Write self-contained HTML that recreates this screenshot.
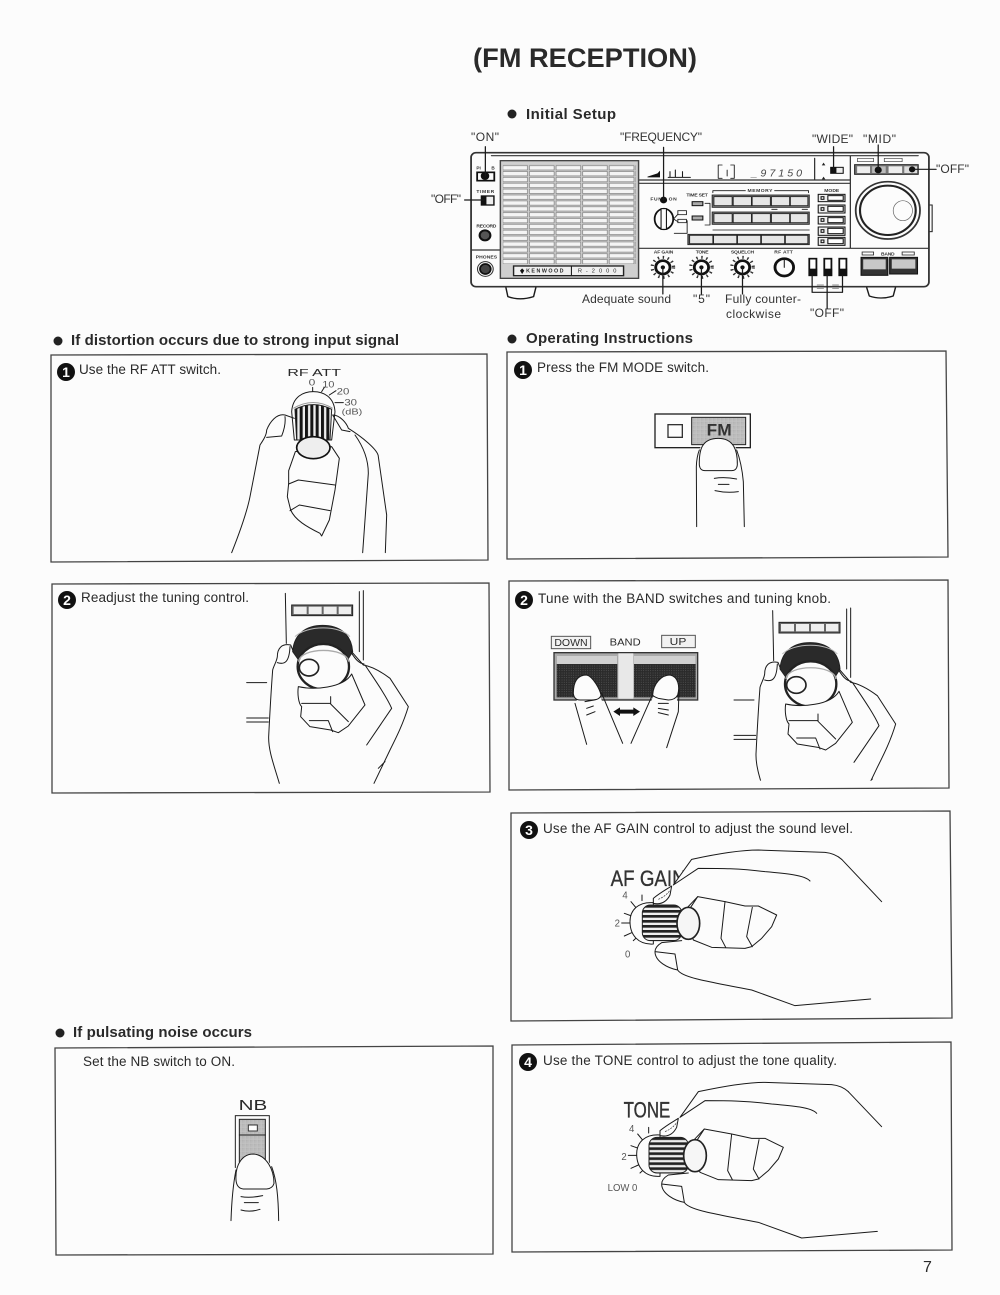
<!DOCTYPE html>
<html><head><meta charset="utf-8"><style>
html,body{margin:0;padding:0;background:#fcfcfc}
svg{display:block;filter:blur(.35px)}
text{font-family:"Liberation Sans",sans-serif;fill:#2a2a2a}
.h{font-weight:700;font-size:15px}
.t{font-size:13.5px}
.l{font-size:12px;fill:#333}
.p{fill:none;stroke:#444;stroke-width:1.3}
.s{fill:none;stroke:#1a1a1a;stroke-width:3;stroke-linejoin:round;stroke-linecap:round}
.w{fill:#fcfcfc;stroke:#1a1a1a;stroke-width:3;stroke-linejoin:round}
.n{font-weight:700;font-size:14px;fill:#fff;text-anchor:middle}
.k{font-weight:700;font-size:14px;fill:#333;text-anchor:middle}
.g{fill:#555}
.d{stroke:#333;stroke-width:1;fill:#333}
</style></head><body>
<svg xmlns="http://www.w3.org/2000/svg" width="1000" height="1295" viewBox="0 0 1000 1295">
<defs>
<clipPath id="cr2"><rect x="0" y="0" width="1350" height="1292"/></clipPath>
<pattern id="slat" patternUnits="userSpaceOnUse" x="229" y="134" width="74.5" height="17.6"><rect x="3" y="3" width="69" height="13" fill="#f4f4f4" stroke="#666" stroke-width="1.6"/></pattern>
<pattern id="pad" patternUnits="userSpaceOnUse" width="7" height="7"><rect width="7" height="7" fill="#2b2b2b"/><rect x="2" y="2" width="2" height="2" fill="#777"/></pattern>
<pattern id="dot" patternUnits="userSpaceOnUse" width="4" height="4"><rect width="4" height="4" fill="#c6c6c6"/><rect width="2" height="2" fill="#a0a0a0"/></pattern>
<pattern id="vr" patternUnits="userSpaceOnUse" x="733" width="16" height="10"><rect width="16" height="10" fill="#eee"/><rect width="9" height="10" fill="#151515"/></pattern>
<pattern id="hr" patternUnits="userSpaceOnUse" y="285" width="10" height="15"><rect width="10" height="15" fill="#eee"/><rect width="10" height="8" fill="#222"/></pattern>
<g id="tune">
<path class="s" d="M706,730L709,880M928,725L928,905M940,722L940,930M590,998H650M590,1104H655M590,1116H655"/>
<rect x="725" y="765" width="183" height="32" fill="#666" stroke="#222" stroke-width="3"/>
<rect x="731" y="770" width="39" height="22" fill="#eee"/><rect x="776" y="770" width="39" height="22" fill="#eee"/><rect x="821" y="770" width="39" height="22" fill="#eee"/><rect x="866" y="770" width="37" height="22" fill="#eee"/>
<path d="M728,905C732,850 770,826 818,826C866,826 904,850 908,905L880,950H760Z" fill="#2a2a2a" stroke="#222" stroke-width="3"/>
<path d="M735,860C770,825 870,825 900,860" fill="none" stroke="#bbb" stroke-width="3"/>
<ellipse cx="820" cy="950" rx="77" ry="68" fill="#fcfcfc" stroke="#222" stroke-width="7"/>
<path d="M746,935C750,890 890,890 896,935" fill="none" stroke="#aaa" stroke-width="4"/>
<path class="w" d="M745,1010C742,1030 745,1060 755,1070L752,1100L780,1130L842,1140L865,1148L895,1128L945,1065L905,972C880,1015 790,1020 745,1010Z"/>
<path class="s" d="M755,1060H840M842,1040V1062L895,1115M778,1112H835L848,1145"/>
<ellipse cx="777" cy="953" rx="29" ry="25" fill="#fcfcfc" stroke="#222" stroke-width="5"/>
<path class="s" d="M688,1300C670,1240 655,1200 656,1160C660,1080 665,1000 668,960C672,945 680,935 682,920C682,895 695,880 722,885L728,900"/>
<path class="s" d="M682,938C705,945 718,935 720,890"/>
<path class="s" d="M905,905L940,945C970,950 1000,970 1020,985L1075,1070C1060,1120 1040,1160 1020,1200L972,1300M945,945C975,990 1010,1040 1025,1075L950,1185M1005,1235L985,1255M905,910C915,925 925,940 942,942"/>
</g>
<g id="af">
<path d="M505,225L560,148C620,135 700,120 760,120L960,127Q990,130 1010,148L1130,275V560H870L520,480L445,300Z" fill="#fcfcfc"/>
<path class="s" d="M505,225L560,148C620,135 700,120 760,120L960,127Q990,130 1010,148M505,225L580,175C650,175 700,175 780,185C840,190 900,195 915,213"/>
<path class="s" d="M411,255V272M378,275L392,292M358,310L380,318M350,339H375M358,378L380,368M385,392L398,380"/>
<path class="w" d="M445,278C400,275 375,300 375,335C375,375 400,405 445,402Z"/>
<rect x="412" y="285" width="118" height="107" fill="url(#hr)" stroke="#222" stroke-width="3" rx="24"/>
<path class="s" d="M445,265C470,245 490,235 500,228L495,255C485,275 470,285 445,280Z"/>
<path d="M460,268C475,262 490,250 495,240" fill="none" stroke="#333" stroke-width="2" stroke-dasharray="6 3"/>
<path class="w" d="M578,260L660,275L720,288L760,288L815,315L800,350L770,385L740,410L720,415L620,412L565,390L540,300Z"/>
<path class="s" d="M660,275L648,385L662,412M742,292L725,380L742,410M578,260L555,295"/>
<ellipse cx="550" cy="340" rx="34" ry="48" fill="#f6f6f6" stroke="#222" stroke-width="5"/>
<path class="s" d="M450,425Q450,410 470,398L530,392M450,425L510,432L518,480C490,475 450,455 450,425ZM518,480C530,500 580,510 740,540L870,587L1097,567"/>
</g>
<g id="rk">
<circle r="30" fill="none" stroke="#333" stroke-width="9" stroke-dasharray="4 10"/>
<circle r="20" fill="#fcfcfc" stroke="#111" stroke-width="8"/>
<circle r="6" fill="#111"/>
</g>
</defs>

<rect width="1000" height="1295" fill="#fcfcfc"/>

<!-- headings -->
<text x="473" y="67" font-size="27" font-weight="700" textLength="224" lengthAdjust="spacingAndGlyphs">(FM RECEPTION)</text>
<circle cx="512" cy="114" r="4.5" fill="#222"/><text class="h" x="526" y="119" textLength="90">Initial Setup</text>
<circle cx="58" cy="341" r="4.5" fill="#222"/><text class="h" x="71" y="345" textLength="328">If distortion occurs due to strong input signal</text>
<circle cx="512" cy="339" r="4.5" fill="#222"/><text class="h" x="526" y="343" textLength="167">Operating Instructions</text>
<circle cx="60" cy="1033" r="4.5" fill="#222"/><text class="h" x="73" y="1037" textLength="179">If pulsating noise occurs</text>

<!-- callouts -->
<text class="l" x="471" y="141" textLength="28">"ON"</text>
<text class="l" x="620" y="141" textLength="82">"FREQUENCY"</text>
<text class="l" x="812" y="143" textLength="41">"WIDE"</text>
<text class="l" x="863" y="143" textLength="33">"MID"</text>
<text class="l" x="936" y="173" textLength="33">"OFF"</text>
<text class="l" x="431" y="203" textLength="30">"OFF"</text>
<text class="l" x="582" y="303" textLength="89">Adequate sound</text>
<text class="l" x="693" y="303" textLength="17">"5"</text>
<text class="l" x="725" y="303" textLength="76">Fully counter-</text>
<text class="l" x="726" y="318" textLength="55">clockwise</text>
<text class="l" x="810" y="317" textLength="34">"OFF"</text>

<!-- receiver -->
<g transform="translate(420,120) scale(.35714,.33333)">
<path class="w" d="M240,500L246,530Q280,543 318,530L325,500M1250,500L1258,528Q1290,540 1325,528L1332,500" style="stroke-width:4"/>
<rect x="1425" y="255" width="9" height="80" fill="#fcfcfc" stroke="#222" stroke-width="3"/>
<rect x="143" y="98" width="1282" height="402" rx="14" fill="#fcfcfc" stroke="#333" stroke-width="5"/>
<path class="s" d="M200,107H1395M612,180H1205M612,190H1205M1205,108V385M1105,115V180M143,390H225M612,385H1425" style="stroke-width:3.5;stroke:#333"/>
<!-- speaker -->
<rect x="225" y="122" width="387" height="353" fill="#cfcfcf" stroke="#444" stroke-width="4"/>
<rect x="232" y="134" width="373" height="298" fill="url(#slat)"/>
<rect x="262" y="438" width="308" height="29" fill="#efefef" stroke="#222" stroke-width="4"/>
<path class="s" d="M424,438V467"/>
<text x="297" y="458" font-size="15" font-weight="700" textLength="105">KENWOOD</text>
<text x="442" y="458" font-size="16" textLength="108">R-2000</text>
<path d="M286,445L292,452L286,462L280,452Z" fill="#111"/>
<!-- left col -->
<text x="158" y="148" font-size="13" font-weight="700" style="fill:#333">PI</text><text x="200" y="148" font-size="13" font-weight="700" style="fill:#333">B</text>
<rect x="160" y="157" width="48" height="25" fill="none" stroke="#111" stroke-width="5"/>
<circle cx="182" cy="168" r="12" fill="#111"/>
<text class="k" x="183" y="219" textLength="50">TIMER</text>
<rect x="172" y="228" width="35" height="27" fill="#eee" stroke="#111" stroke-width="4"/>
<rect x="172" y="228" width="14" height="27" fill="#111"/>
<text class="k" x="186" y="322" textLength="56">RECORD</text>
<ellipse cx="182" cy="346" rx="15" ry="15" fill="#555" stroke="#111" stroke-width="6"/>
<text class="k" x="186" y="415" textLength="60">PHONES</text>
<circle cx="183" cy="447" r="22" fill="none" stroke="#333" stroke-width="3"/>
<circle cx="183" cy="447" r="15" fill="#444" stroke="#111" stroke-width="5"/>
<!-- display -->
<path d="M637,170L665,160L672,152L672,172H637Z" fill="#111"/>
<path class="s" d="M695,172H757M700,172V155M715,172V150M735,172V155"/>
<path class="s" d="M846,135H835V175H846M870,135H880V175H870M860,150V168" style="stroke-width:2.5"/>
<text x="928" y="170" font-size="30" font-style="italic" textLength="142" style="fill:#444">_97150</text>
<path d="M1130,128L1125,136H1135ZM1130,170L1125,178H1135Z" fill="#222"/>
<rect x="1150" y="142" width="35" height="18" fill="#eee" stroke="#111" stroke-width="3"/>
<rect x="1150" y="142" width="16" height="18" fill="#111"/>
<!-- top right -->
<rect x="1225" y="115" width="45" height="10" fill="none" stroke="#444" stroke-width="2"/>
<rect x="1300" y="115" width="50" height="10" fill="none" stroke="#444" stroke-width="2"/>
<rect x="1217" y="134" width="178" height="29" fill="#777" stroke="#222" stroke-width="3"/>
<rect x="1224" y="139" width="36" height="20" fill="#eee"/><rect x="1266" y="139" width="38" height="20" fill="#bbb"/><rect x="1312" y="139" width="38" height="20" fill="#eee"/><rect x="1356" y="139" width="36" height="20" fill="#ddd"/>
<circle cx="1283" cy="150" r="10" fill="#111"/><circle cx="1378" cy="148" r="9" fill="#111"/>
<!-- big knob -->
<ellipse cx="1310" cy="271" rx="90" ry="86" fill="#fcfcfc" stroke="#333" stroke-width="5"/>
<ellipse cx="1310" cy="271" rx="78" ry="74" fill="#fcfcfc" stroke="#222" stroke-width="6"/>
<ellipse cx="1352" cy="272" rx="27" ry="30" fill="#fcfcfc" stroke="#666" stroke-width="2"/>
<!-- function -->
<text class="k" x="682" y="242" textLength="74">FUNC ON</text>
<circle cx="682" cy="240" r="10" fill="#111"/>
<ellipse cx="683" cy="297" rx="26" ry="31" fill="#fcfcfc" stroke="#111" stroke-width="5"/>
<rect x="675" y="266" width="15" height="62" fill="#fcfcfc" stroke="#111" stroke-width="3"/>
<path class="s" d="M710,297L722,283M710,297L722,305M748,302V340H712" style="stroke-width:2.5"/>
<rect x="722" y="272" width="24" height="12" fill="none" stroke="#222" stroke-width="2.5"/>
<rect x="722" y="298" width="24" height="10" fill="none" stroke="#222" stroke-width="2.5"/>
<text class="k" x="776" y="230" textLength="60">TIME SET</text>
<rect x="762" y="245" width="30" height="12" fill="#aaa" stroke="#111" stroke-width="3"/>
<rect x="762" y="288" width="30" height="12" fill="#aaa" stroke="#111" stroke-width="3"/>
<path class="s" d="M798,250H812V315H798M820,212H1088M820,212V218M1088,212V218M820,330H1090M985,268H1000M1070,268H1085" style="stroke-width:2.5"/>
<rect x="912" y="204" width="80" height="14" fill="#fcfcfc"/>
<text class="k" x="952" y="216" textLength="70">MEMORY</text>
<g fill="#e6e6e6" stroke="#222" stroke-width="2.5">
<rect x="818" y="225" width="272" height="37" fill="#777"/>
<rect x="823" y="230" width="51" height="27"/><rect x="877" y="230" width="51" height="27"/><rect x="930" y="230" width="51" height="27"/><rect x="984" y="230" width="51" height="27"/><rect x="1037" y="230" width="49" height="27"/>
<rect x="818" y="276" width="272" height="37" fill="#777"/>
<rect x="823" y="281" width="51" height="27"/><rect x="877" y="281" width="51" height="27"/><rect x="930" y="281" width="51" height="27"/><rect x="984" y="281" width="51" height="27"/><rect x="1037" y="281" width="49" height="27"/>
<rect x="750" y="343" width="340" height="31" fill="#666"/>
<rect x="755" y="346" width="65" height="25"/><rect x="822" y="346" width="65" height="25"/><rect x="889" y="346" width="65" height="25"/><rect x="956" y="346" width="65" height="25"/><rect x="1023" y="346" width="63" height="25"/>
</g>
<text class="k" x="1153" y="216" textLength="42">MODE</text>
<g fill="#eee" stroke="#111" stroke-width="3">
<rect x="1115" y="223" width="75" height="22"/><rect x="1142" y="227" width="43" height="14" fill="#fff"/><rect x="1123" y="230" width="8" height="8"/>
<rect x="1115" y="255" width="75" height="24"/><rect x="1142" y="259" width="43" height="15" fill="#fff"/><rect x="1123" y="263" width="8" height="8"/>
<rect x="1115" y="289" width="75" height="23"/><rect x="1142" y="293" width="43" height="15" fill="#fff"/><rect x="1123" y="296" width="8" height="8"/>
<rect x="1115" y="321" width="75" height="25"/><rect x="1142" y="325" width="43" height="16" fill="#fff"/><rect x="1123" y="329" width="8" height="8"/>
<rect x="1115" y="352" width="75" height="24"/><rect x="1142" y="356" width="43" height="15" fill="#fff"/><rect x="1123" y="360" width="8" height="8"/>
</g>
<!-- knobs -->
<text class="k" x="682" y="401" textLength="55">AF GAIN</text>
<text class="k" x="790" y="401" textLength="36">TONE</text>
<text class="k" x="903" y="401" textLength="65">SQUELCH</text>
<text class="k" x="1018" y="401" textLength="52">RF ATT</text>
<use href="#rk" x="680" y="442"/><use href="#rk" x="788" y="442"/><use href="#rk" x="903" y="442"/>
<circle cx="1020" cy="442" r="26" fill="#fcfcfc" stroke="#111" stroke-width="8"/>
<path class="s" d="M1020,442V418"/>
<g stroke="#111" stroke-width="5">
<rect x="1090" y="416" width="20" height="50" fill="#fff"/><rect x="1132" y="416" width="20" height="50" fill="#fff"/><rect x="1174" y="416" width="20" height="50" fill="#fff"/>
</g>
<rect x="1088" y="446" width="24" height="22" fill="#111"/><rect x="1130" y="446" width="24" height="22" fill="#111"/><rect x="1172" y="446" width="24" height="22" fill="#111"/>
<!-- band -->
<rect x="1238" y="396" width="32" height="9" fill="none" stroke="#333" stroke-width="2.5"/><rect x="1350" y="396" width="34" height="9" fill="none" stroke="#333" stroke-width="2.5"/>
<text class="k" x="1310" y="407" textLength="38">BAND</text>
<rect x="1235" y="412" width="75" height="54" fill="#333" stroke="#111" stroke-width="3"/>
<rect x="1315" y="412" width="78" height="50" fill="#333" stroke="#111" stroke-width="3"/>
<rect x="1241" y="418" width="63" height="30" fill="#c8c8c8"/><rect x="1321" y="418" width="66" height="28" fill="#c8c8c8"/>
<!-- leads -->
<path class="s" d="M183,80V168M125,240H180M682,82V240M1158,80V150M1283,75V150M1385,148H1445M680,442V522M788,442V522M903,442V522M1098,465V517H1183V465M1140,465V517M1140,517V565" style="stroke-width:3.5"/>
<path class="s" d="M1112,495H1130M1112,505H1130M1155,495H1172M1155,505H1172" style="stroke-width:2;stroke:#666"/>
</g>

<!-- panel frames -->
<path class="p" d="M51,355L487,354L488,560L51,562Z"/>
<path class="p" d="M52,584L489,583L490,792L52,793Z"/>
<path class="p" d="M507,352L946,351L948,557L507,559Z"/>
<path class="p" d="M509,581L948,580L949,788L509,790Z"/>
<path class="p" d="M511,813L950,811L952,1018L511,1021Z"/>
<path class="p" d="M512,1045L951,1042L952,1250L512,1252Z"/>
<path class="p" d="M55,1048L493,1046L493,1254L56,1255Z"/>

<!-- badges -->
<circle cx="66" cy="372" r="9" fill="#111"/><text class="n" x="66" y="377">1</text>
<circle cx="67" cy="600" r="9" fill="#111"/><text class="n" x="67" y="605">2</text>
<circle cx="523" cy="370" r="9" fill="#111"/><text class="n" x="523" y="375">1</text>
<circle cx="524" cy="600" r="9" fill="#111"/><text class="n" x="524" y="605">2</text>
<circle cx="529" cy="830" r="9" fill="#111"/><text class="n" x="529" y="835">3</text>
<circle cx="528" cy="1062" r="9" fill="#111"/><text class="n" x="528" y="1067">4</text>

<!-- panel labels -->
<text class="t" x="79" y="374" textLength="142">Use the RF ATT switch.</text>
<text class="t" x="81" y="602" textLength="168">Readjust the tuning control.</text>
<text class="t" x="537" y="372" textLength="172">Press the FM MODE switch.</text>
<text class="t" x="538" y="603" textLength="293">Tune with the BAND switches and tuning knob.</text>
<text class="t" x="543" y="833" textLength="310">Use the AF GAIN control to adjust the sound level.</text>
<text class="t" x="543" y="1065" textLength="294">Use the TONE control to adjust the tone quality.</text>
<text class="t" x="83" y="1066" textLength="152">Set the NB switch to ON.</text>
<text x="923" y="1272" font-size="16">7</text>

<!-- L1 -->
<g transform="translate(50,350) scale(.33333)">
<text x="712" y="78" font-size="29" textLength="161" lengthAdjust="spacingAndGlyphs">RF ATT</text>
<text class="g" x="776" y="106" font-size="27" textLength="20" lengthAdjust="spacingAndGlyphs">0</text><text class="g" x="817" y="112" font-size="27" textLength="36" lengthAdjust="spacingAndGlyphs">10</text>
<text class="g" x="860" y="134" font-size="27" textLength="38" lengthAdjust="spacingAndGlyphs">20</text><text class="g" x="883" y="166" font-size="27" textLength="38" lengthAdjust="spacingAndGlyphs">30</text><text class="g" x="875" y="194" font-size="25" textLength="62" lengthAdjust="spacingAndGlyphs">(dB)</text>
<path class="s" d="M788,112V125M823,112L815,125M858,122L838,135M880,158H855"/>
<path class="w" d="M725,185C728,140 760,125 790,125C820,125 852,140 855,185L845,270H733Z"/>
<path d="M730,175Q790,140 848,175" fill="none" stroke="#999" stroke-width="3"/>
<path d="M735,178Q790,150 845,178L840,270H740Z" fill="url(#vr)" stroke="#222" stroke-width="3"/>
<path class="w" d="M736,305L716,362V400L712,440L722,480C735,510 770,530 810,550L815,558L838,510L855,420L868,325L845,290Z"/>
<path class="s" d="M716,402L745,390L855,405M720,482L748,465L840,482"/>
<ellipse cx="790" cy="293" rx="50" ry="33" fill="#eee" stroke="#111" stroke-width="5"/>
<path class="s" d="M545,608C570,545 590,490 600,440L630,285C640,270 650,255 650,240C660,215 680,190 705,195L733,205M650,262L695,258Q708,225 705,200"/>
<path class="s" d="M848,195C870,195 890,220 895,235C935,260 985,300 985,320L1010,495L1006,608M915,255C940,290 955,330 955,370L938,608M848,195L875,240L900,245"/>
</g>
<!-- L2 -->
<g transform="translate(50,350) scale(.33333)"><use href="#tune"/></g>

<!-- R1 -->
<g transform="translate(505,350) scale(.33333)">
<rect x="450" y="192" width="286" height="101" fill="#fcfcfc" stroke="#222" stroke-width="4"/>
<rect x="489" y="224" width="43" height="38" fill="#fcfcfc" stroke="#333" stroke-width="4"/>
<rect x="560" y="202" width="162" height="82" fill="url(#dot)" stroke="#222" stroke-width="3"/>
<text x="605" y="257" font-size="50" font-weight="700" textLength="75" lengthAdjust="spacingAndGlyphs" style="fill:#333">FM</text>
<path d="M574,530V350Q575,320 583,300C590,265 690,265 695,300Q710,340 715,395L718,530Z" fill="#fcfcfc"/>
<path class="s" d="M575,530L574,350Q575,320 583,300M695,300Q710,340 715,395L718,530"/>
<path class="w" d="M583,345C582,300 590,265 640,265C685,265 698,300 697,345Q695,362 680,362L600,362Q585,362 583,345Z"/>
<path class="s" d="M628,385Q660,380 695,387M640,403H672M630,422Q665,430 700,425"/>
</g>

<!-- R2 -->
<g transform="translate(505,350) scale(.33333)">
<rect x="139" y="859" width="118" height="37" fill="#f2f2f2" stroke="#555" stroke-width="3"/>
<text x="148" y="888" font-size="30" textLength="100" lengthAdjust="spacingAndGlyphs">DOWN</text>
<text x="314" y="886" font-size="30" textLength="93" lengthAdjust="spacingAndGlyphs">BAND</text>
<rect x="470" y="856" width="101" height="37" fill="#f2f2f2" stroke="#555" stroke-width="3"/>
<text x="494" y="885" font-size="30" textLength="50" lengthAdjust="spacingAndGlyphs">UP</text>
<rect x="147" y="908" width="431" height="142" fill="#aaa" stroke="#333" stroke-width="4"/>
<rect x="155" y="918" width="182" height="124" fill="url(#pad)"/><rect x="155" y="918" width="182" height="24" fill="#d0d0d0"/>
<rect x="387" y="918" width="185" height="124" fill="url(#pad)"/><rect x="387" y="918" width="185" height="24" fill="#d0d0d0"/>
<rect x="340" y="910" width="45" height="136" fill="#e8e8e8"/>
<path d="M215,1050L245,1183H353L285,1040Z" fill="#fcfcfc"/>
<path class="s" d="M245,1183L210,1060M353,1180L290,1030"/>
<path class="w" d="M205,1030C205,985 225,975 245,975C265,980 285,1020 288,1035Q285,1050 260,1050H225Q207,1050 205,1030Z"/>
<path class="s" d="M240,1055L268,1050M245,1075L265,1068M245,1095L270,1085"/>
<path d="M378,1180H485L520,1085L515,1040H445Z" fill="#fcfcfc"/>
<path class="s" d="M485,1193L520,1085L522,1020M378,1180L440,1040"/>
<path class="w" d="M443,1035C445,1000 470,975 495,975C520,980 525,1010 518,1035Q510,1050 490,1050L460,1045Q445,1040 443,1035Z"/>
<path class="s" d="M460,1060H490M460,1075L490,1080M460,1088L490,1095"/>
<path d="M325,1085L345,1072V1079H385V1072L405,1085L385,1098V1091H345V1098Z" fill="#111"/>
<g clip-path="url(#cr2)"><g transform="translate(97,52)"><use href="#tune"/></g></g>
</g>

<!-- R3 -->
<g transform="translate(505,810) scale(.33333)">
<text class="d" x="317" y="228" font-size="66" textLength="225" lengthAdjust="spacingAndGlyphs">AF GAIN</text>
<text class="g" x="352" y="266" font-size="30" textLength="16" lengthAdjust="spacingAndGlyphs">4</text><text class="g" x="329" y="350" font-size="30" textLength="16" lengthAdjust="spacingAndGlyphs">2</text><text class="g" x="360" y="443" font-size="30" textLength="16" lengthAdjust="spacingAndGlyphs">0</text>
<use href="#af"/>
<path class="s" d="M1010,148L1130,275"/>
</g>
<!-- R4 -->
<g transform="translate(505,810) scale(.33333)">
<text class="d" x="356" y="922" font-size="66" textLength="140" lengthAdjust="spacingAndGlyphs">TONE</text>
<text class="g" x="372" y="966" font-size="30" textLength="16" lengthAdjust="spacingAndGlyphs">4</text><text class="g" x="349" y="1050" font-size="30" textLength="16" lengthAdjust="spacingAndGlyphs">2</text>
<text class="g" x="308" y="1143" font-size="30" textLength="89" lengthAdjust="spacingAndGlyphs">LOW 0</text>
<g transform="translate(20,697)"><use href="#af"/></g>
<path class="s" d="M1030,845L1130,950"/>
</g>

<!-- NB -->
<g transform="translate(50,1020) scale(.33333)">
<text x="566" y="270" font-size="44" textLength="86" lengthAdjust="spacingAndGlyphs">NB</text>
<rect x="556" y="287" width="102" height="155" fill="#fcfcfc" stroke="#222" stroke-width="3"/>
<rect x="568" y="298" width="78" height="128" fill="url(#dot)" stroke="#222" stroke-width="3"/>
<path class="s" d="M568,345H646"/>
<rect x="595" y="315" width="27" height="18" fill="#fff" stroke="#333" stroke-width="3"/>
<path d="M558,440C575,400 650,400 665,440L686,602H543Z" fill="#fcfcfc"/>
<path class="s" d="M543,602C545,540 550,490 558,450M686,602C685,530 680,480 665,440"/>
<path class="w" d="M558,480C555,430 580,402 610,402C650,405 672,450 672,490Q668,505 650,507L580,507Q560,505 558,480Z"/>
<path class="s" d="M573,530Q600,535 638,527M583,548H625M573,570Q600,578 630,568"/>
</g>
</svg>
</body></html>
